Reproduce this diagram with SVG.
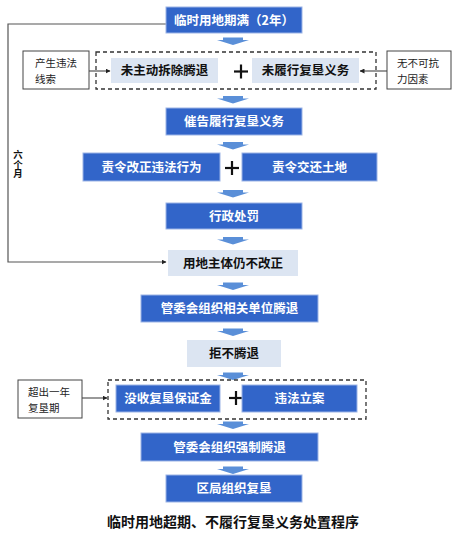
<svg xmlns="http://www.w3.org/2000/svg" width="458" height="554" viewBox="0 0 458 554">
<defs>
<style>
.blue{fill:#3265c9;stroke:#9bb4e6;stroke-width:1}
.light{fill:#dce5f2;stroke:none}
.side{fill:#fff;stroke:#444;stroke-width:1}
.dash{fill:none;stroke:#333;stroke-width:1.3;stroke-dasharray:4 3}
.tw{font-family:"Noto Sans CJK SC","Noto Sans",sans-serif;font-size:12.5px;font-weight:bold;fill:#fff;text-anchor:middle}
.tb{font-family:"Noto Sans CJK SC","Noto Sans",sans-serif;font-size:12.5px;font-weight:bold;fill:#111;text-anchor:middle}
.ts{font-family:"Noto Sans CJK SC","Noto Sans",sans-serif;font-size:10.5px;fill:#222}
.tv{font-family:"Noto Sans CJK SC","Noto Sans",sans-serif;font-size:9.5px;font-weight:bold;fill:#111;writing-mode:vertical-rl}
.cap{font-family:"Noto Sans CJK SC","Noto Sans",sans-serif;font-size:14px;font-weight:bold;fill:#111;text-anchor:middle}
.line{fill:none;stroke:#555;stroke-width:1.2}
.plus{stroke:#111;stroke-width:2.2}
.barr{fill:#5a8fd8}
</style>
<marker id="ah" viewBox="0 0 10 10" refX="9" refY="5" markerWidth="5" markerHeight="5" orient="auto" markerUnits="userSpaceOnUse">
<path d="M0,0 L10,5 L0,10 Z" fill="#222"/>
</marker>
<path id="ba" d="M-10,0 H10 V2.5 H16 L0,7.5 L-16,2.5 H-10 Z"/>
</defs>

<g id="connectors">
<polyline class="line" points="166,24 8,24 8,262 166,262" marker-end="url(#ah)"/>
<line class="line" x1="89" y1="71" x2="110" y2="71" marker-end="url(#ah)"/>
<line class="line" x1="387" y1="71" x2="360" y2="71" marker-end="url(#ah)"/>
<line class="line" x1="82" y1="398" x2="107" y2="398" marker-end="url(#ah)"/>
<use href="#ba" class="barr" x="233" y="37.5"/>
<use href="#ba" class="barr" x="233" y="96"/>
<use href="#ba" class="barr" x="233" y="142"/>
<use href="#ba" class="barr" x="233" y="190"/>
<use href="#ba" class="barr" x="233" y="237"/>
<use href="#ba" class="barr" x="233" y="282.5"/>
<use href="#ba" class="barr" x="233" y="328.5"/>
<use href="#ba" class="barr" x="233" y="372.5"/>
<use href="#ba" class="barr" x="233" y="421.5"/>
<use href="#ba" class="barr" x="233" y="466.5"/>
<text class="tv" x="18" y="150">六个月</text>
</g>

<g id="n1"><rect class="blue" x="166" y="7" width="136" height="26"/><text class="tw" x="234" y="24.5">临时用地期满（2年）</text></g>

<g id="group1"><rect class="dash" x="96" y="52" width="280" height="37"/></g>
<g id="n2"><rect class="light" x="111" y="58" width="107" height="25"/><text class="tb" x="164.5" y="75">未主动拆除腾退</text></g>
<g id="plus1"><line class="plus" x1="234" y1="71.5" x2="248" y2="71.5"/><line class="plus" x1="241" y1="64.5" x2="241" y2="78.5"/></g>
<g id="n3"><rect class="light" x="252" y="58" width="107" height="25"/><text class="tb" x="305.5" y="75">未履行复垦义务</text></g>
<g id="n4"><rect class="side" x="23" y="51" width="66" height="38"/><text class="ts" x="35" y="67">产生违法</text><text class="ts" x="35" y="82.5">线索</text></g>
<g id="n5"><rect class="side" x="387" y="51" width="64" height="38"/><text class="ts" x="397" y="67">无不可抗</text><text class="ts" x="397" y="82.5">力因素</text></g>

<g id="n6"><rect class="blue" x="166" y="108" width="136" height="27"/><text class="tw" x="234" y="126">催告履行复垦义务</text></g>

<g id="n7"><rect class="blue" x="83" y="153" width="137" height="28"/><text class="tw" x="151.5" y="171.5">责令改正违法行为</text></g>
<g id="plus2"><line class="plus" x1="225" y1="168" x2="239" y2="168"/><line class="plus" x1="232" y1="161" x2="232" y2="175"/></g>
<g id="n8"><rect class="blue" x="242" y="153" width="135" height="28"/><text class="tw" x="309.5" y="171.5">责令交还土地</text></g>

<g id="n9"><rect class="blue" x="166" y="203" width="136" height="26"/><text class="tw" x="234" y="220.5">行政处罚</text></g>

<g id="n10"><rect class="light" x="168" y="250" width="130" height="26"/><text class="tb" x="233" y="267.5">用地主体仍不改正</text></g>

<g id="n11"><rect class="blue" x="141" y="295" width="177" height="27"/><text class="tw" x="229.5" y="313">管委会组织相关单位腾退</text></g>

<g id="n12"><rect class="light" x="187" y="340" width="94" height="27"/><text class="tb" x="234" y="358">拒不腾退</text></g>

<g id="group2"><rect class="dash" x="108" y="380" width="258" height="39"/></g>
<g id="n13"><rect class="blue" x="116" y="385" width="104" height="27"/><text class="tw" x="168" y="403">没收复垦保证金</text></g>
<g id="plus3"><line class="plus" x1="229" y1="398" x2="243" y2="398"/><line class="plus" x1="236" y1="391" x2="236" y2="405"/></g>
<g id="n14"><rect class="blue" x="242" y="385" width="115" height="27"/><text class="tw" x="299.5" y="403">违法立案</text></g>
<g id="n15side"><rect class="side" x="18" y="380" width="64" height="38"/><text class="ts" x="28" y="396">超出一年</text><text class="ts" x="28" y="411.5">复垦期</text></g>

<g id="n16"><rect class="blue" x="141" y="433" width="177" height="28"/><text class="tw" x="229.5" y="451.5">管委会组织强制腾退</text></g>

<g id="n17"><rect class="blue" x="166" y="475" width="136" height="27"/><text class="tw" x="234" y="493">区局组织复垦</text></g>

<text class="cap" x="233" y="527">临时用地超期、不履行复垦义务处置程序</text>
</svg>
